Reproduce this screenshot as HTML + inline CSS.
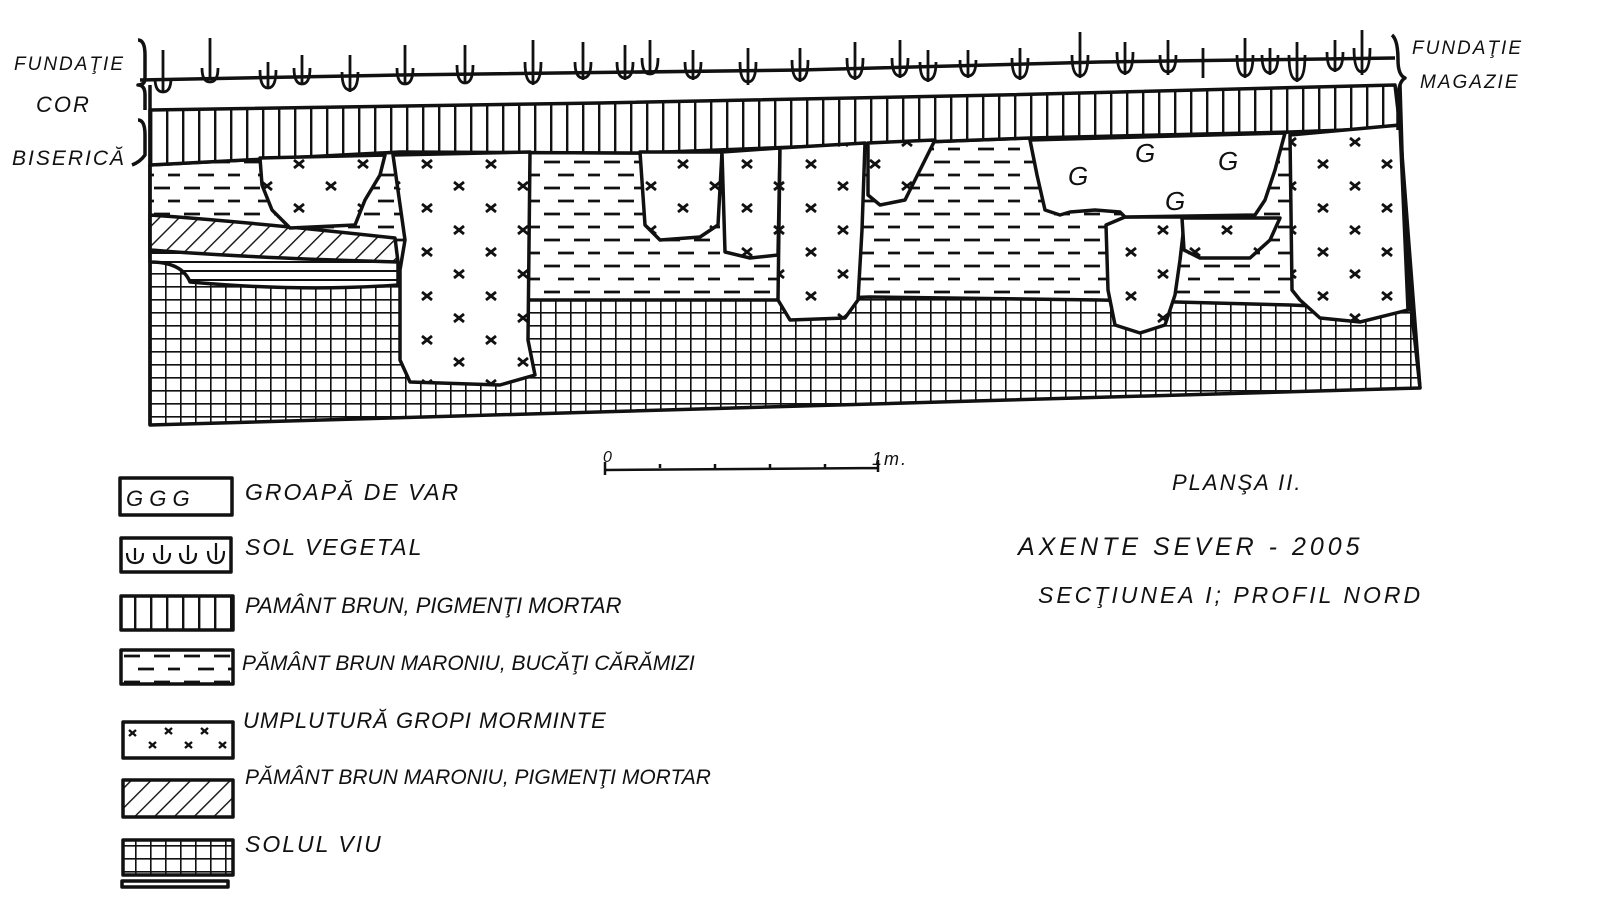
<!DOCTYPE html>
<html><head><meta charset="utf-8"><style>
html,body{margin:0;padding:0;background:#fff;width:1600px;height:920px;overflow:hidden}
text{font-family:"Liberation Sans",sans-serif;font-style:italic;fill:#111}
</style></head><body>
<svg width="1600" height="920" viewBox="0 0 1600 920" xmlns="http://www.w3.org/2000/svg">
<defs>
<pattern id="grid" width="15" height="13" patternUnits="userSpaceOnUse" x="150" y="0">
<rect width="15" height="13" fill="#fff"/><path d="M0,0V13M0,0H15" stroke="#111" stroke-width="3.2"/></pattern>
<pattern id="vs" width="16" height="20" patternUnits="userSpaceOnUse" x="150">
<rect width="16" height="20" fill="#fff"/><path d="M1,0V20" stroke="#111" stroke-width="2.8"/></pattern>
<pattern id="dash" width="60" height="26" patternUnits="userSpaceOnUse">
<rect width="60" height="26" fill="#fff"/><path d="M4,6h16M34,6h16M18,19h16M48,19h12" stroke="#111" stroke-width="2.8"/></pattern>
<pattern id="cross" width="64" height="44" patternUnits="userSpaceOnUse">
<rect width="64" height="44" fill="#fff"/><path d="M6,6l10,8M16,6l-10,8M38,28l10,8M48,28l-10,8" stroke="#111" stroke-width="2.8"/></pattern>
<pattern id="lcross" width="110" height="36" patternUnits="userSpaceOnUse" x="123" y="722">
<rect width="110" height="36" fill="#fff"/><path d="M6,8l7,6M13,8l-7,6M26,20l7,6M33,20l-7,6M42,6l7,6M49,6l-7,6M62,20l7,6M69,20l-7,6M78,6l7,6M85,6l-7,6M96,20l7,6M103,20l-7,6" stroke="#111" stroke-width="2.4"/></pattern>
<pattern id="hatch" width="14" height="14" patternUnits="userSpaceOnUse" patternTransform="rotate(45)">
<rect width="14" height="14" fill="#fff"/><path d="M0,0V14" stroke="#111" stroke-width="2.8"/></pattern>
<pattern id="hl" width="20" height="9" patternUnits="userSpaceOnUse">
<rect width="20" height="9" fill="#fff"/><path d="M0,1H20" stroke="#111" stroke-width="2"/></pattern>
</defs>
<g stroke="#111" stroke-width="3.5" stroke-linejoin="round" fill="none">
<path d="M150,165 L400,152 640,153 1030,138 1290,132 1400,128 1420,388 150,425Z" fill="url(#grid)"/>
<path d="M150,165 L400,152 640,153 1030,138 1290,132 1400,128 1410,310 1290,305 1100,300 870,297 780,300 530,300 400,270 300,285 185,265 150,255Z" fill="url(#dash)"/>
<path d="M150,215 Q250,222 395,238 L398,262 Q300,266 200,255 L150,250Z" fill="url(#hatch)"/>
<path d="M150,250 Q250,258 398,262 L398,285 Q300,292 190,282 Q182,262 150,262Z" fill="url(#hl)"/>
<path d="M150,110 L600,103 1000,95 1395,85 1400,128 1290,132 1030,138 640,153 400,152 150,165Z" fill="url(#vs)"/>
<path d="M140,80 L400,75 800,70 1100,62 1395,58"/>
<path d="M150,85 V425 M1400,85 L1405,250 1420,388"/>
<g fill="url(#cross)">
<path d="M260,158 L385,155 380,175 365,200 355,225 290,228 272,210 262,185Z"/>
<path d="M393,155 L530,152 528,340 535,375 500,385 410,382 400,360 400,270 405,240Z"/>
<path d="M640,152 L722,152 718,225 700,237 660,240 645,225Z"/>
<path d="M722,152 L780,148 778,255 750,258 725,252Z"/>
<path d="M780,148 L865,143 862,230 858,300 845,318 790,320 778,300Z"/>
<path d="M868,143 L935,140 920,170 905,200 880,205 868,195Z"/>
<path d="M1125,217 L1185,217 1180,260 1175,295 1165,325 1140,333 1115,325 1108,290 1106,225Z"/>
<path d="M1182,218 L1280,218 1270,240 1250,258 1200,258 1184,250Z"/>
<path d="M1290,135 L1400,125 1408,310 1360,322 1320,318 1300,300 1292,290Z"/>
</g>
<path d="M1030,140 L1285,133 1275,170 1265,200 1255,215 1125,217 1120,212 1095,210 1070,212 1060,215 1045,210 1037,175Z" fill="#fff"/>
<path d="M138,40 Q145,40 145,55 L145,78 Q145,85 138,85 Q145,85 145,95 L145,110"/>
<path d="M138,120 Q145,120 145,135 L145,155 Q140,162 132,165"/>
<path d="M1392,35 Q1398,40 1398,60 Q1398,75 1405,78 Q1398,82 1398,100 L1398,130"/>
<g stroke-width="2.8">
<path d="M163,50V92M155,78Q155,92 163,92Q171,92 171,78"/>
<path d="M210,38V80M202,68Q202,82 210,82Q218,82 218,68"/>
<path d="M268,62V88M260,70Q260,88 268,88Q276,88 276,70"/>
<path d="M302,55V85M294,68Q294,84 302,84Q310,84 310,68"/>
<path d="M350,55V92M342,72Q342,90 350,90Q358,90 358,72"/>
<path d="M405,45V85M397,68Q397,84 405,84Q413,84 413,68"/>
<path d="M465,45V84M457,65Q457,83 465,83Q473,83 473,65"/>
<path d="M533,40V85M525,62Q525,83 533,83Q541,83 541,62"/>
<path d="M583,42V80M575,62Q575,78 583,78Q591,78 591,62"/>
<path d="M625,45V80M617,62Q617,78 625,78Q633,78 633,62"/>
<path d="M650,40V75M642,58Q642,74 650,74Q658,74 658,58"/>
<path d="M693,50V80M685,62Q685,78 693,78Q701,78 701,62"/>
<path d="M748,48V85M740,62Q740,82 748,82Q756,82 756,62"/>
<path d="M800,48V82M792,60Q792,80 800,80Q808,80 808,60"/>
<path d="M855,42V80M847,58Q847,78 855,78Q863,78 863,58"/>
<path d="M900,40V78M892,58Q892,76 900,76Q908,76 908,58"/>
<path d="M928,50V82M920,62Q920,80 928,80Q936,80 936,62"/>
<path d="M968,50V78M960,60Q960,76 968,76Q976,76 976,60"/>
<path d="M1020,48V80M1012,58Q1012,78 1020,78Q1028,78 1028,58"/>
<path d="M1080,32V78M1072,55Q1072,76 1080,76Q1088,76 1088,55"/>
<path d="M1125,42V75M1117,52Q1117,73 1125,73Q1133,73 1133,52"/>
<path d="M1168,40V75M1160,55Q1160,72 1168,72Q1176,72 1176,55"/>
<path d="M1203,48V78"/>
<path d="M1245,38V78M1237,55Q1237,76 1245,76Q1253,76 1253,55"/>
<path d="M1270,48V75M1262,55Q1262,73 1270,73Q1278,73 1278,55"/>
<path d="M1297,42V82M1289,55Q1289,80 1297,80Q1305,80 1305,55"/>
<path d="M1335,40V72M1327,52Q1327,70 1335,70Q1343,70 1343,52"/>
<path d="M1362,30V75M1354,48Q1354,72 1362,72Q1370,72 1370,48"/>
</g>
<path d="M605,470 L878,468 M605,462V475M878,460V472" stroke-width="2.5"/>
<path d="M660,468v-4M715,468v-4M770,468v-4M825,468v-4" stroke-width="2.5"/>
<rect x="120" y="478" width="112" height="37"/>
<rect x="121" y="538" width="110" height="34"/>
<rect x="121" y="596" width="112" height="34" fill="url(#vs)"/>
<rect x="121" y="650" width="112" height="34" fill="url(#dash)"/>
<rect x="123" y="722" width="110" height="36" fill="url(#lcross)"/>
<rect x="123" y="780" width="110" height="37" fill="url(#hatch)"/>
<rect x="123" y="840" width="110" height="35" fill="url(#grid)"/>
<rect x="122" y="881" width="106" height="6"/>
<g stroke-width="2.2">
<path d="M135,548v12M127,553Q127,563 135,563Q143,563 143,553"/>
<path d="M162,545v15M154,553Q154,563 162,563Q170,563 170,553"/>
<path d="M188,545v15M180,553Q180,563 188,563Q196,563 196,553"/>
<path d="M216,543v17M208,551Q208,563 216,563Q224,563 224,551"/>
</g>
</g>
<g font-size="26" style="font-style:normal">
<text x="1068" y="185">G</text><text x="1135" y="162">G</text><text x="1218" y="170">G</text><text x="1165" y="210">G</text>
<text x="126" y="506" font-size="22">G G G</text>
</g>
<g font-size="22" letter-spacing="2">
<text x="14" y="70" font-size="19">FUNDAŢIE</text>
<text x="36" y="112">COR</text>
<text x="12" y="165" font-size="21">BISERICĂ</text>
<text x="1412" y="54" font-size="19">FUNDAŢIE</text>
<text x="1420" y="88" font-size="19">MAGAZIE</text>
<text x="603" y="462" font-size="16">0</text>
<text x="872" y="465" font-size="18">1m.</text>
<text x="1172" y="490">PLANŞA II.</text>
<text x="1018" y="555" font-size="25" letter-spacing="4">AXENTE SEVER - 2005</text>
<text x="1038" y="603" font-size="23" letter-spacing="3">SECŢIUNEA I; PROFIL NORD</text>
<text x="245" y="500" font-size="23">GROAPĂ DE VAR</text>
<text x="245" y="555" font-size="23">SOL VEGETAL</text>
<text x="245" y="613" font-size="22" letter-spacing="0">PAMÂNT BRUN, PIGMENŢI MORTAR</text>
<text x="242" y="670" font-size="21" letter-spacing="0">PĂMÂNT BRUN MARONIU, BUCĂŢI CĂRĂMIZI</text>
<text x="243" y="728" font-size="22" letter-spacing="1">UMPLUTURĂ GROPI MORMINTE</text>
<text x="245" y="784" font-size="21" letter-spacing="0">PĂMÂNT BRUN MARONIU, PIGMENŢI MORTAR</text>
<text x="245" y="852" font-size="23">SOLUL VIU</text>
</g>
</svg>
</body></html>
